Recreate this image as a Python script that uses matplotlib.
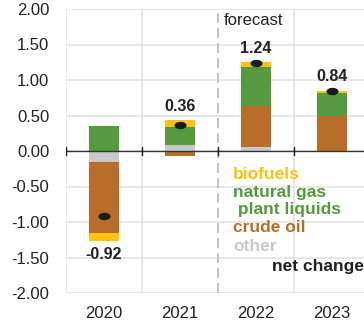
import matplotlib
matplotlib.use("Agg")
import matplotlib.pyplot as plt
import numpy as np
from matplotlib.path import Path

plt.rcParams['font.family'] = ['Liberation Sans', 'DejaVu Sans']

years = ["2020", "2021", "2022", "2023"]
biofuels = [-0.11, 0.09, 0.07, 0.03]
natural_gas = [0.35, 0.26, 0.55, 0.33]
crude_oil = [-1.00, -0.07, 0.58, 0.49]
other = [-0.16, 0.08, 0.05, 0.0]
net_change = [-0.92, 0.36, 1.24, 0.84]
net_labels = ["-0.92", "0.36", "1.24", "0.84"]
yticks = [2.0, 1.5, 1.0, 0.5, 0.0, -0.5, -1.0, -1.5, -2.0]

c_bio = "#FFC20E"
c_gas = "#559A3F"
c_oil = "#B86D2B"
c_oth = "#C9C9C9"

fig = plt.figure(figsize=(3.64, 3.23), dpi=100)
ax = fig.add_axes([66/364, 30/323, 304/364, 284/323])

x = np.arange(len(years))
w = 0.4
series = [(other, c_oth), (crude_oil, c_oil), (natural_gas, c_gas), (biofuels, c_bio)]
pos_base = np.zeros(len(years))
neg_base = np.zeros(len(years))
for vals, col in series:
    vals = np.array(vals)
    bottoms = np.where(vals >= 0, pos_base, neg_base)
    ax.bar(x, vals, w, bottom=bottoms, color=col, zorder=3, linewidth=0)
    pos_base = pos_base + np.where(vals >= 0, vals, 0)
    neg_base = neg_base + np.where(vals < 0, vals, 0)

t = np.linspace(0, 2*np.pi, 40)
pill = Path(np.column_stack([np.cos(t), 0.55*np.sin(t)]))
ax.scatter(x, net_change, marker=pill, s=60, color="#1a1a1a", zorder=5)

for i, (v, lab) in enumerate(zip(net_change, net_labels)):
    if v < 0:
        ax.text(x[i], neg_base[i] - 0.19, lab, ha='center', va='center',
                fontsize=11.5, fontweight='bold', color="#222222")
    else:
        ax.text(x[i], pos_base[i] + 0.2, lab, ha='center', va='center',
                fontsize=11.5, fontweight='bold', color="#222222")

ax.set_xlim(-0.5, 3.5)
ax.set_ylim(-2.0, 2.0)
ax.set_yticks(yticks)
ax.set_yticklabels([f"{v:.2f}" for v in yticks])
ax.set_xticks(x)
ax.set_xticklabels(years)
ax.tick_params(axis='y', length=0, pad=12, labelsize=12, colors="#222222")
ax.tick_params(axis='x', length=0, pad=9, labelsize=12, colors="#222222")

for yv in yticks:
    ax.axhline(yv, color="#E3E3E3", lw=1.2, zorder=1)
for xv in [-0.5, 0.5, 2.5, 3.5]:
    ax.axvline(xv, color="#E3E3E3", lw=1.2, zorder=1)
ax.axvline(1.5, color="#B8B8BE", lw=1.2, ls=(0, (6, 3)), zorder=2)
ax.axhline(0, color="#333333", lw=1.0, zorder=4)
for xv in [-0.5, 0.5, 1.5, 2.5]:
    ax.plot([xv, xv], [-0.06, 0.06], color="#222222", lw=1.0, zorder=4)

for s in ax.spines.values():
    s.set_visible(False)

ax.text(1.58, 1.845, "forecast", ha='left', va='center', fontsize=12, color="#222222")

leg = [("biofuels", c_bio, -0.324), ("natural gas", c_gas, -0.59),
       (" plant liquids", c_gas, -0.83), ("crude oil", c_oil, -1.08),
       ("other", c_oth, -1.35)]
for txt, col, yy in leg:
    ax.text(1.697, yy, txt, ha='left', va='center', fontsize=12.5,
            fontweight='bold', color=col, zorder=6)
ax.text(2.21, -1.62, "net change", ha='left', va='center', fontsize=12.5,
        fontweight='bold', color="#222222", zorder=6)

fig.savefig("out.png", dpi=100)
